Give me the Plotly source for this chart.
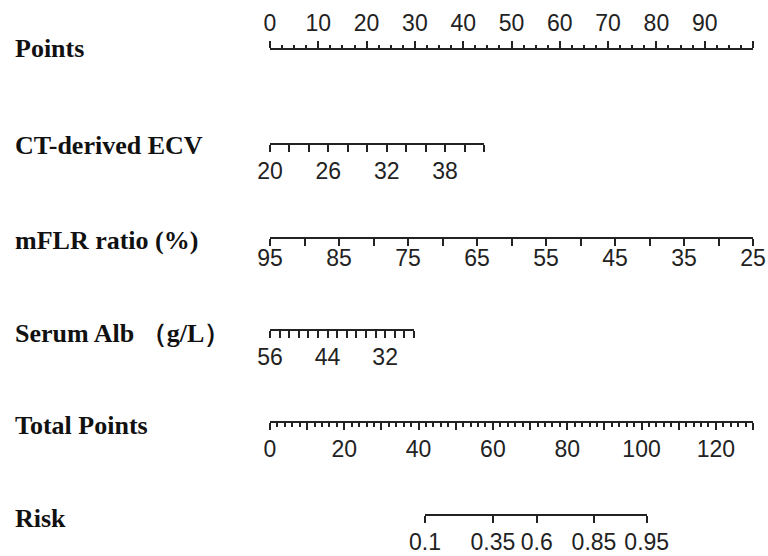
import plotly.graph_objects as go

# ---------------- data ----------------
row_labels = ["Points", "CT-derived ECV", "mFLR ratio (%)", "Serum Alb （g/L）", "Total Points", "Risk"]

points_ticks = list(range(0, 101, 10))
points_labels = [str(v) for v in range(0, 100, 10)]

ecv_ticks = list(range(20, 43, 2))
ecv_labels = [20, 26, 32, 38]
ecv_points_max = 44.3          # points reached at ECV = 42

mflr_ticks = list(range(95, 24, -5))
mflr_labels = [95, 85, 75, 65, 55, 45, 35, 25]
mflr_points_max = 100.0        # points reached at mFLR = 25

alb_ticks = list(range(56, 25, -2))
alb_labels = [56, 44, 32]
alb_points_max = 29.8          # points reached at Alb = 26

total_ticks = list(range(0, 131, 10))
total_labels = [0, 20, 40, 60, 80, 100, 120]

risk_labels = ["0.1", "0.35", "0.6", "0.85", "0.95"]
risk_total_points = [41.7, 60.0, 71.8, 87.2, 101.4]

# ---------------- layout geometry (pixels) ----------------
W, H = 768, 556
X0, X1 = 270, 753          # 0..100 points span
row_y = [50, 143, 237, 329, 421, 514]
label_y = [48, 146, 240, 333, 425, 518]

def px(x):
    return x / W

def py(y):
    return 1 - y / H

def pts_to_px(p):
    return X0 + p / 100 * (X1 - X0)

TOTAL_MAX = 130
def tot_to_px(t):
    return X0 + t / TOTAL_MAX * (X1 - X0)

LINE = "#222222"
TICKFONT = dict(family="Liberation Sans, Arial, sans-serif", size=23, color="#222222")

fig = go.Figure()

def add_axis(idx, rng, domain_px, tickvals, ticktext, ypix, side="bottom",
             standoff=0, minor=None):
    xa = "xaxis" if idx == 1 else f"xaxis{idx}"
    ya = "yaxis" if idx == 1 else f"yaxis{idx}"
    xr = "x" if idx == 1 else f"x{idx}"
    yr = "y" if idx == 1 else f"y{idx}"
    fig.add_trace(go.Scatter(x=[rng[0], rng[1]], y=[0, 0], xaxis=xr, yaxis=yr,
                             mode="markers", marker=dict(opacity=0, size=1),
                             hoverinfo="skip", showlegend=False))
    f = py(ypix)
    ydom = [f, min(f + 0.02, 1)] if side == "bottom" else [max(f - 0.02, 0), f]
    ax = dict(domain=[px(domain_px[0]), px(domain_px[1])], range=list(rng),
              anchor=yr, side=side, showline=True, linecolor=LINE, linewidth=2,
              showgrid=False, zeroline=False, ticks="outside", ticklen=7,
              tickwidth=1.5, tickcolor=LINE, tickmode="array",
              tickvals=tickvals, ticktext=ticktext, tickfont=TICKFONT,
              ticklabelstandoff=standoff, automargin=False, fixedrange=True)
    if minor:
        ax["minor"] = minor
    fig.layout[xa] = ax
    fig.layout[ya] = dict(domain=ydom, anchor=xr, visible=False, range=[0, 1],
                          automargin=False, fixedrange=True)

# Points
add_axis(1, (0, 100), (X0, X1), points_ticks,
         [str(v) if str(v) in points_labels else "" for v in points_ticks],
         row_y[0], side="top", standoff=1,
         minor=dict(tickmode="linear", tick0=0, dtick=2.5, ticklen=3,
                    ticks="outside", tickwidth=1.5, tickcolor=LINE))
# CT-derived ECV
add_axis(2, (ecv_ticks[0], ecv_ticks[-1]), (X0, pts_to_px(ecv_points_max)), ecv_ticks,
         [str(v) if v in ecv_labels else "" for v in ecv_ticks], row_y[1], standoff=-1)
# mFLR ratio
add_axis(3, (mflr_ticks[0], mflr_ticks[-1]), (X0, pts_to_px(mflr_points_max)), mflr_ticks,
         [str(v) if v in mflr_labels else "" for v in mflr_ticks], row_y[2], standoff=-8)
# Serum Alb
add_axis(4, (alb_ticks[0], alb_ticks[-1]), (X0, pts_to_px(alb_points_max)), alb_ticks,
         [str(v) if v in alb_labels else "" for v in alb_ticks], row_y[3], standoff=-1)
# Total Points
add_axis(5, (0, TOTAL_MAX), (X0, X1), total_ticks,
         [str(v) if v in total_labels else "" for v in total_ticks], row_y[4], standoff=-1,
         minor=dict(tickmode="linear", tick0=0, dtick=2, ticklen=4,
                    ticks="outside", tickwidth=1.5, tickcolor=LINE))
# Risk
add_axis(6, (risk_total_points[0], risk_total_points[-1]),
         (tot_to_px(risk_total_points[0]), tot_to_px(risk_total_points[-1])),
         risk_total_points, risk_labels, row_y[5], standoff=-1)

for lab, ly in zip(row_labels, label_y):
    fig.add_annotation(text=lab, xref="paper", yref="paper", x=px(13), y=py(ly),
                       xanchor="left", yanchor="middle", showarrow=False,
                       font=dict(family="Liberation Serif, Times New Roman, serif",
                                 size=26, color="#111111", weight="bold"))

fig.update_layout(width=W, height=H,
                  margin=dict(l=0, r=0, t=0, b=0, pad=0, autoexpand=False),
                  paper_bgcolor="white", plot_bgcolor="white", showlegend=False)

fig.write_html("out.html",
               config={"displayModeBar": False},
               post_script="document.body.style.margin='0px';"
                           "document.body.style.overflow='hidden';")
